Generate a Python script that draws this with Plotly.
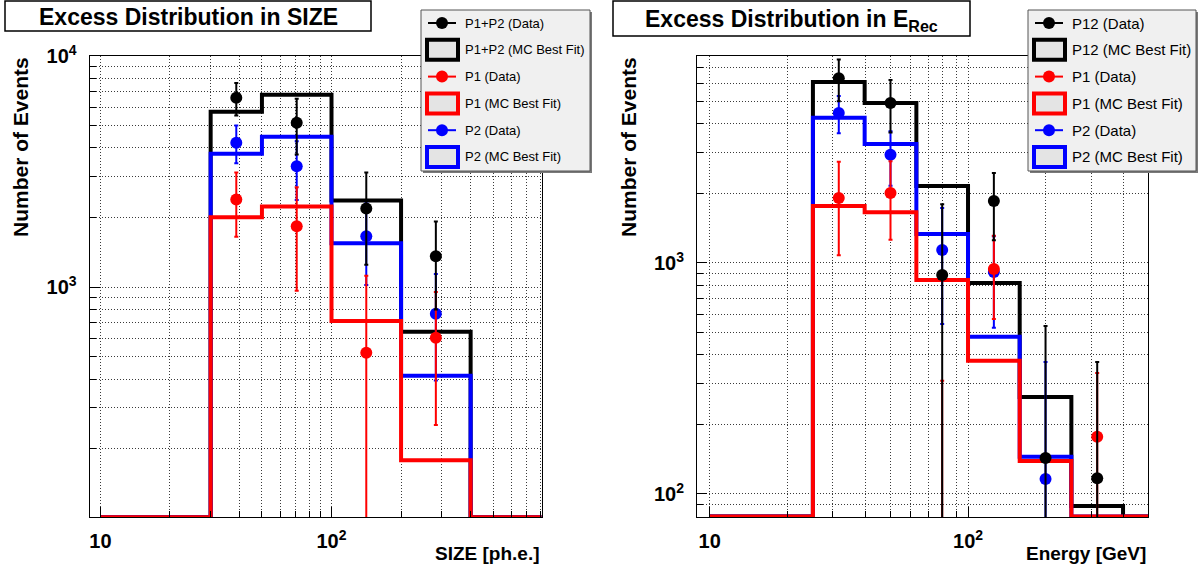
import numpy as np
import plotly.graph_objects as go

W, H = 1201, 570

# ---------------- data : left panel (SIZE) ----------------
size_edges = [10, 30, 50, 100, 200, 400, 1000]
size_mc_p12 = [0, 5740, 6790, 2372, 640, 0]
size_mc_p2 = [0, 3780, 4477, 1548, 413, 0]
size_mc_p1 = [0, 2003, 2233, 713, 178, 0]
size_data_bins = [1, 2, 3, 4]
size_p12 = [6590, 5140, 2190, 1360]
size_p12_err = [1060, 1390, 940, 560]
size_p2 = [4217, 3330, 1660, 766]
size_p2_err = [780, 950, 640, 372]
size_p1 = [2393, 1833, 520, 603]
size_p1_err = [740, 870, 600, 350]

# ---------------- data : right panel (E_Rec) ----------------
e_edges = [10, 25.1, 39.8, 63.1, 100, 158.5, 251.2, 398.1, 501.2]
e_mc_p12 = [0, 6080, 4930, 2154, 819, 263, 88.7, 0]
e_mc_p2 = [0, 4250, 3270, 1336, 479, 145, 0, 0]
e_mc_p1 = [0, 1766, 1660, 844, 377, 139, 0, 0]
e_data_bins = [1, 2, 3, 4, 5, 6]
e_p12 = [6310, 4930, 887, 1853, 143, 117]
e_p12_err = [1300, 1260, 910, 600, 390, 256]
e_p2 = [4460, 2940, 1138, 915, 116, None]
e_p2_err = [820, 780, 593, 390, 257, None]
e_p1 = [1910, 2010, 30, 942, None, 177]
e_p1_err = [830, 750, 279, 370, None, 157]

# tick labels
x_tickvals = [10, 100]
x_ticktext = ["10", "10<sup>2</sup>"]
size_y_tickvals = [1000, 10000]
size_y_ticktext = ["10<sup>3</sup>", "10<sup>4</sup>"]
e_y_tickvals = [100, 1000]
e_y_ticktext = ["10<sup>2</sup>", "10<sup>3</sup>"]

left_legend = ["P1+P2 (Data)", "P1+P2 (MC Best Fit)", "P1 (Data)", "P1 (MC Best Fit)",
               "P2 (Data)", "P2 (MC Best Fit)"]
right_legend = ["P12 (Data)", "P12 (MC Best Fit)", "P1 (Data)", "P1 (MC Best Fit)",
                "P2 (Data)", "P2 (MC Best Fit)"]

BLACK, RED, BLUE = "#000000", "#ff0000", "#0000ff"
FONT = "Liberation Sans, Arial, Helvetica, sans-serif"

fig = go.Figure()


def centers(edges, bins):
    return [float(np.sqrt(edges[b] * edges[b + 1])) for b in bins]


def add_mc(edges, vals, color, floor, xa, ya):
    y = [max(v, floor) for v in vals] + [max(vals[-1], floor)]
    fig.add_trace(go.Scatter(x=edges, y=y, mode="lines", line=dict(color=color, width=4, shape="hv"),
                             xaxis=xa, yaxis=ya, showlegend=False, hoverinfo="skip"))


def add_data(edges, bins, vals, errs, color, xa, ya):
    fig.add_trace(go.Scatter(x=centers(edges, bins), y=vals, mode="markers",
                             marker=dict(color=color, size=12, line=dict(width=0)),
                             error_y=dict(type="data", array=errs, color=color, thickness=2, width=2),
                             xaxis=xa, yaxis=ya, showlegend=False))


# left panel
L_FLOOR = 101
add_mc(size_edges, size_mc_p12, BLACK, L_FLOOR, "x", "y")
add_mc(size_edges, size_mc_p2, BLUE, L_FLOOR, "x", "y")
add_mc(size_edges, size_mc_p1, RED, L_FLOOR, "x", "y")
add_data(size_edges, size_data_bins, size_p2, size_p2_err, BLUE, "x", "y")
add_data(size_edges, size_data_bins, size_p1, size_p1_err, RED, "x", "y")
add_data(size_edges, size_data_bins, size_p12, size_p12_err, BLACK, "x", "y")

# right panel
R_FLOOR = 80
add_mc(e_edges, e_mc_p12, BLACK, R_FLOOR, "x2", "y2")
add_mc(e_edges, e_mc_p2, BLUE, R_FLOOR, "x2", "y2")
add_mc(e_edges, e_mc_p1, RED, R_FLOOR, "x2", "y2")
add_data(e_edges, e_data_bins, e_p2, e_p2_err, BLUE, "x2", "y2")
add_data(e_edges, e_data_bins, e_p1, e_p1_err, RED, "x2", "y2")
add_data(e_edges, e_data_bins, e_p12, e_p12_err, BLACK, "x2", "y2")

minor_vals = [d * 10 ** k for k in range(0, 5) for d in range(2, 10)]
GRIDC = "#3a3a3a"
GRIDD = "1px,2px"


def axis(domain, rng, tickvals, ticktext, anchor, standoff):
    return dict(type="log", range=rng, domain=domain, anchor=anchor, automargin=False,
                tickmode="array", tickvals=tickvals, ticktext=ticktext,
                ticks="inside", ticklen=10, tickwidth=1, tickcolor="black",
                showline=True, mirror=True, linecolor="black", linewidth=1,
                showgrid=True, gridcolor=GRIDC, griddash=GRIDD, gridwidth=1,
                zeroline=False, ticklabelstandoff=standoff,
                tickfont=dict(family=FONT, size=20, color="black", weight="bold"),
                minor=dict(tickmode="array", tickvals=minor_vals, ticks="inside", ticklen=6,
                           tickcolor="black", showgrid=True, gridcolor=GRIDC, griddash=GRIDD,
                           gridwidth=1))


ydom = [1 - 517 / H, 1 - 56 / H]
fig.update_layout(
    template="none",
    width=W, height=H, margin=dict(l=0, r=0, t=0, b=0, pad=0, autoexpand=False),
    paper_bgcolor="white", plot_bgcolor="white", showlegend=False,
    xaxis=axis([89.6 / W, 541.5 / W], [0.9533, 2.9087], x_tickvals, x_ticktext, "y", 6),
    yaxis=axis(ydom, [2.005, 4.0], size_y_tickvals, size_y_ticktext, "x", 8),
    xaxis2=axis([697 / W, 1148 / W], [0.951, 2.6966], x_tickvals, x_ticktext, "y2", 6),
    yaxis2=axis(ydom, [1.9004, 3.896], e_y_tickvals, e_y_ticktext, "x2", 8),
)


def px(x):
    return x / W


def py(y):
    return 1 - y / H


shapes = []
annos = []

# title boxes
shapes.append(dict(type="rect", xref="paper", yref="paper", x0=px(5), x1=px(371), y0=py(1), y1=py(31),
                   line=dict(color="black", width=1.5), fillcolor="white", layer="above"))
shapes.append(dict(type="rect", xref="paper", yref="paper", x0=px(613), x1=px(970), y0=py(1), y1=py(36),
                   line=dict(color="black", width=1.5), fillcolor="white", layer="above"))
annos.append(dict(text="Excess Distribution in SIZE", x=px(188), y=py(17), xref="paper", yref="paper",
                  xanchor="center", yanchor="middle", showarrow=False,
                  font=dict(family=FONT, size=23, color="black", weight="bold")))
annos.append(dict(text="Excess Distribution in E<sub>Rec</sub>", x=px(791), y=py(20), xref="paper",
                  yref="paper", xanchor="center", yanchor="middle", showarrow=False,
                  font=dict(family=FONT, size=23, color="black", weight="bold")))

# axis titles
for xc in (21, 629):
    annos.append(dict(text="Number of Events", x=px(xc), y=py(55), xref="paper", yref="paper",
                      xanchor="center", yanchor="top", textangle=-90, showarrow=False,
                      font=dict(family=FONT, size=21, color="black", weight="bold")))
annos.append(dict(text="SIZE [ph.e.]", x=px(542), y=py(553), xref="paper", yref="paper",
                  xanchor="right", yanchor="middle", showarrow=False,
                  font=dict(family=FONT, size=19, color="black", weight="bold")))
annos.append(dict(text="Energy [GeV]", x=px(1148), y=py(553), xref="paper", yref="paper",
                  xanchor="right", yanchor="middle", showarrow=False,
                  font=dict(family=FONT, size=19, color="black", weight="bold")))


def legend(x0, x1, labels, line_x0, line_x1, box_x0, box_x1, text_x, fsize):
    shapes.append(dict(type="rect", xref="paper", yref="paper", x0=px(x0 + 2), x1=px(x1 + 2),
                       y0=py(12), y1=py(173), line=dict(width=0), fillcolor="#7a7a7a", layer="above"))
    shapes.append(dict(type="rect", xref="paper", yref="paper", x0=px(x0), x1=px(x1), y0=py(10),
                       y1=py(171), line=dict(color="#555555", width=1), fillcolor="#f0f0f0",
                       layer="above"))
    colors = [BLACK, BLACK, RED, RED, BLUE, BLUE]
    for i, (lab, c) in enumerate(zip(labels, colors)):
        yc = 23 + i * 26.8
        if i % 2 == 0:
            shapes.append(dict(type="line", xref="paper", yref="paper", x0=px(line_x0), x1=px(line_x1),
                               y0=py(yc), y1=py(yc), line=dict(color=c, width=2), layer="above"))
            xm = (line_x0 + line_x1) / 2
            shapes.append(dict(type="circle", xref="paper", yref="paper", x0=px(xm - 6),
                               x1=px(xm + 6), y0=py(yc - 6), y1=py(yc + 6),
                               line=dict(color=c, width=0), fillcolor=c, layer="above"))
        else:
            shapes.append(dict(type="rect", xref="paper", yref="paper", x0=px(box_x0), x1=px(box_x1),
                               y0=py(yc - 10), y1=py(yc + 10), line=dict(color=c, width=4),
                               fillcolor="#e4e4e4", layer="above"))
        annos.append(dict(text=lab, x=px(text_x), y=py(yc), xref="paper", yref="paper",
                          xanchor="left", yanchor="middle", showarrow=False,
                          font=dict(family=FONT, size=fsize, color="black")))


legend(421, 590, left_legend, 428, 456, 427, 458, 463, 13)
legend(1028, 1196, right_legend, 1035, 1063, 1034, 1065, 1070, 15)

fig.update_layout(shapes=shapes, annotations=annos)
fig.write_html("out.html", config={"displayModeBar": False},
               post_script="document.body.style.margin='0';document.body.style.overflow='hidden';")
